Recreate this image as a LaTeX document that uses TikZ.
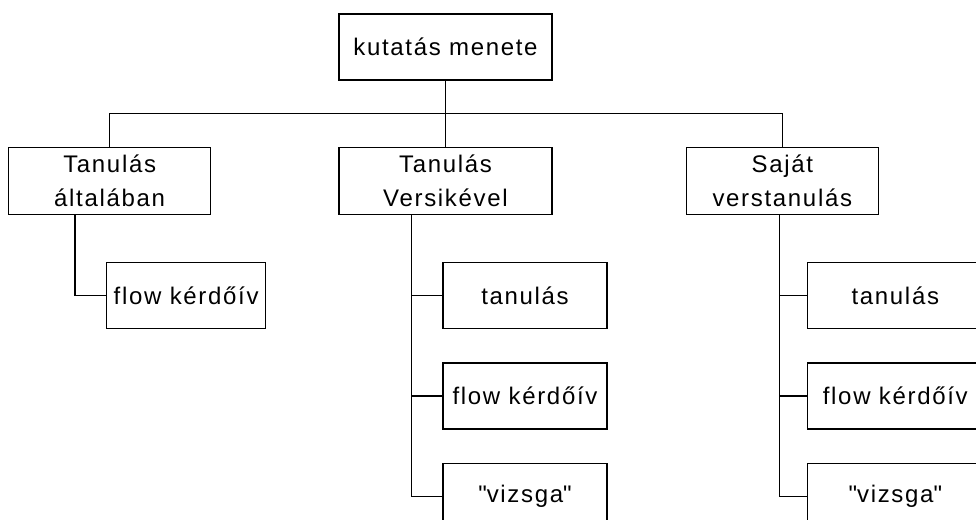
\documentclass[tikz,border=0pt]{standalone}
\usepackage{fontspec}
\setmainfont{Liberation Sans}[LetterSpace=7]
\usetikzlibrary{positioning,calc}

\begin{document}
\begin{tikzpicture}[
    node distance=24.75pt,
    box/.style={rectangle, draw=black, fill=white, line width=1pt,
                inner sep=0pt, align=center, font=\fontsize{18}{25}\selectfont},
    rootbox/.style={box, minimum width=159.75pt, minimum height=49.5pt},
    topic/.style={box, minimum height=50.25pt},
    leaf/.style={box, minimum height=49.5pt},
    line/.style={line width=1.1pt, draw=black}
]

% Frame of the picture
\clip (-334.125pt,-354pt) rectangle (397.875pt,35.25pt);

% Root
\node[rootbox] (root) {kutatás menete};

% Topics
\node[topic, minimum width=159.75pt, below=49.5pt of root] (t2) {Tanulás\\Versikével};
\node[topic, minimum width=151.5pt, left=95.25pt of t2] (t1) {Tanulás\\általában};
\node[topic, minimum width=144pt, right=99.75pt of t2] (t3) {Saját\\verstanulás};

% Steps
\node[leaf, minimum width=119.25pt, below right=35.25pt and 73.5pt of t1.south west] (c1) {flow kérdőív};

\node[leaf, minimum width=123pt, below right=35.25pt and 78pt of t2.south west] (c2a) {tanulás};
\node[leaf, minimum width=123pt, below=of c2a] (c2b) {flow kérdőív};
\node[leaf, minimum width=123pt, below=of c2b] (c2c) {\textquotedbl vizsga\textquotedbl};

\node[leaf, minimum width=132pt, below right=35.25pt and 90.75pt of t3.south west] (c3a) {tanulás};
\node[leaf, minimum width=132pt, below=of c3a] (c3b) {flow kérdőív};
\node[leaf, minimum width=132pt, below=of c3b] (c3c) {\textquotedbl vizsga\textquotedbl};

% Top connectors
\coordinate (bar) at ($(root.south)!0.5!(t2.north)$);
\draw[line] (root) -- (t2);
\draw[line] (t1.north) |- (bar) -| (t3.north);

% Branches
\coordinate (b1) at ([xshift=-23.25pt]c1.west);
\coordinate (b2) at ([xshift=-23.25pt]c2a.west);
\coordinate (b3) at ([xshift=-20.25pt]c3a.west);

\draw[line] (b1 |- t1.south) |- (c1.west);
\draw[line] (b2 |- t2.south) |- (c2c.west);
\draw[line] (b3 |- t3.south) |- (c3c.west);
\foreach \c in {c2a,c2b} \draw[line] (b2 |- \c.west) -- (\c.west);
\foreach \c in {c3a,c3b} \draw[line] (b3 |- \c.west) -- (\c.west);

\end{tikzpicture}
\end{document}
